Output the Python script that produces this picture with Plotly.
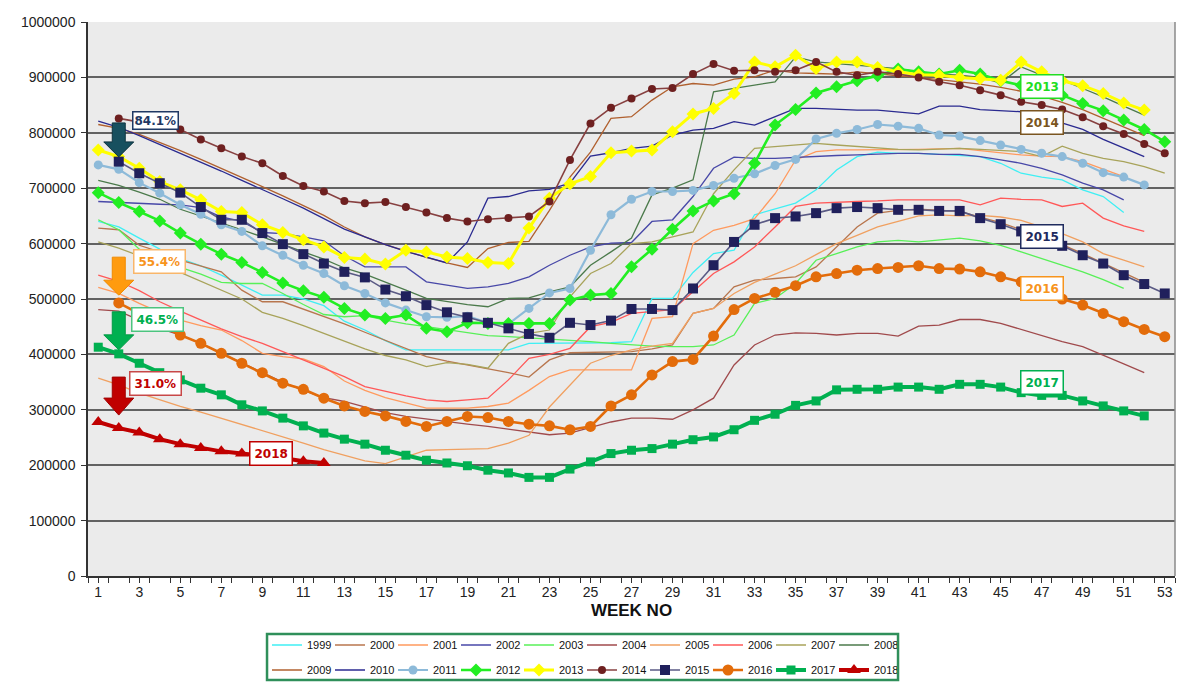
import plotly.graph_objects as go

weeks = list(range(1, 54))
tick_weeks = list(range(1, 54, 2))
y_ticks = list(range(0, 1000001, 100000))

# Weekly stock levels, in thousands (week 1 first)
y1999_k = [640, 630, 610, 590, 573, 560, 543, 525, 507, 507, 500, 488, 460, 444, 425, 408, 408, 408, 408, 408,
           408, 420, 420, 420, 421, 421, 423, 501, 501, 548, 582, 588, 652, 662, 673, 697, 733, 757, 765, 763,
           763, 761, 759, 757, 745, 727, 720, 715, 697, 685, 656]
y2000_k = [628, 625, 597, 585, 570, 560, 549, 516, 495, 495, 482, 468, 455, 440, 425, 410, 396, 388, 381, 375,
           367, 359, 390, 403, 404, 405, 405, 410, 417, 474, 483, 522, 534, 537, 540, 558, 594, 630, 655, 660,
           662, 660, 658, 648, 638, 625, 612, 598, 582, 565, 548, 530]
y2001_k = [521, 510, 492, 476, 462, 452, 444, 425, 402, 396, 392, 378, 352, 335, 322, 312, 303, 303, 303, 306,
           312, 335, 360, 372, 372, 372, 372, 465, 468, 600, 624, 633, 645, 690, 751, 766, 769, 769, 769, 769,
           770, 771, 772, 768, 764, 760, 758, 757, 748, 735, 721]
y2002_k = [676, 674, 673, 671, 670, 665, 648, 640, 620, 618, 612, 605, 578, 558, 558, 558, 531, 525, 519, 522,
           528, 540, 561, 579, 594, 601, 602, 640, 643, 685, 736, 756, 754, 754, 756, 758, 759, 760, 762, 763,
           763, 761, 761, 757, 751, 745, 736, 724, 709, 697, 679]
y2003_k = [643, 625, 590, 570, 557, 545, 530, 528, 528, 510, 490, 472, 468, 470, 462, 455, 450, 445, 440, 434,
           432, 430, 428, 425, 423, 420, 417, 415, 414, 414, 417, 435, 492, 501, 528, 570, 582, 594, 603, 606,
           603, 606, 610, 605, 597, 585, 573, 561, 549, 535, 519]
y2004_k = [481, 478, 462, 447, 435, 420, 402, 385, 368, 350, 335, 322, 315, 305, 295, 288, 283, 278, 274, 270,
           265, 260, 255, 258, 268, 278, 285, 285, 283, 300, 321, 381, 417, 435, 439, 438, 435, 438, 438, 433,
           451, 453, 463, 463, 456, 445, 433, 423, 414, 399, 383, 367]
y2005_k = [357, 345, 330, 318, 306, 296, 285, 273, 262, 251, 240, 228, 218, 208, 203, 215, 227, 228, 229, 230,
           240, 254, 305, 345, 384, 398, 408, 415, 420, 474, 483, 510, 530, 545, 560, 580, 600, 615, 630, 640,
           650, 652, 650, 651, 648, 642, 630, 618, 603, 582, 570, 558]
y2006_k = [543, 532, 515, 495, 478, 462, 446, 432, 420, 405, 390, 375, 360, 342, 333, 325, 318, 315, 318, 321,
           354, 393, 400, 411, 450, 458, 474, 478, 481, 513, 546, 567, 594, 630, 667, 673, 675, 676, 677, 679,
           679, 679, 679, 670, 682, 680, 679, 667, 673, 646, 632, 622]
y2007_k = [603, 592, 578, 562, 548, 532, 515, 500, 476, 465, 452, 438, 425, 410, 398, 390, 378, 385, 382, 375,
           420, 438, 444, 504, 546, 564, 600, 603, 612, 621, 690, 733, 772, 775, 778, 781, 778, 775, 772, 770,
           769, 770, 772, 770, 768, 766, 757, 776, 763, 754, 748, 739, 727]
y2008_k = [714, 705, 693, 680, 662, 650, 638, 625, 612, 598, 585, 572, 556, 545, 531, 516, 501, 495, 490, 486,
           501, 502, 513, 522, 561, 585, 610, 688, 700, 715, 874, 880, 886, 892, 937, 928, 925, 922, 920, 916,
           910, 906, 904, 900, 890, 919, 904, 895, 880, 865, 848, 832]
y2009_k = [815, 808, 797, 783, 768, 752, 736, 720, 703, 686, 669, 651, 630, 612, 598, 586, 575, 565, 557, 591,
           602, 604, 660, 720, 765, 826, 829, 859, 883, 889, 886, 897, 901, 913, 908, 907, 906, 910, 906, 903,
           900, 896, 893, 888, 882, 875, 866, 855, 842, 826, 810, 795]
y2010_k = [821, 810, 795, 779, 764, 748, 731, 714, 698, 681, 664, 645, 626, 612, 598, 586, 575, 565, 603, 682,
           685, 695, 698, 709, 758, 764, 772, 776, 796, 805, 808, 820, 814, 829, 844, 844, 842, 841, 841, 838,
           834, 848, 848, 842, 840, 838, 829, 817, 806, 788, 772, 757]
y2011_k = [742, 734, 710, 691, 670, 653, 634, 622, 596, 579, 561, 546, 524, 510, 493, 480, 468, 467, 469, 457,
           455, 483, 511, 519, 588, 652, 680, 694, 694, 696, 705, 718, 726, 741, 752, 789, 799, 806, 815, 812,
           808, 796, 794, 786, 778, 770, 763, 757, 745, 728, 720, 706]
y2012_k = [692, 674, 658, 641, 619, 599, 581, 566, 548, 529, 515, 503, 483, 471, 465, 471, 447, 441, 457, 456,
           456, 456, 456, 498, 507, 510, 558, 590, 626, 659, 677, 690, 745, 814, 842, 872, 883, 894, 903, 915,
           910, 906, 913, 906, 894, 886, 877, 868, 853, 840, 823, 806, 784]
y2013_k = [769, 757, 736, 712, 697, 679, 658, 656, 634, 620, 607, 594, 575, 572, 563, 588, 585, 576, 573, 566,
           564, 628, 682, 708, 721, 764, 767, 769, 802, 834, 844, 871, 928, 919, 940, 916, 928, 928, 918, 910,
           905, 904, 900, 898, 895, 928, 910, 894, 885, 871, 854, 841]
y2014_k = [None, 826, 820, 813, 806, 788, 772, 757, 745, 722, 704, 694, 677, 673, 675, 666, 656, 646, 640, 644,
           646, 649, 676, 751, 817, 845, 862, 879, 881, 906, 924, 912, 913, 910, 913, 928, 910, 904, 910, 906,
           900, 892, 886, 877, 868, 856, 850, 842, 828, 812, 798, 780, 763]
y2015_k = [None, 748, 727, 709, 692, 666, 643, 643, 619, 599, 581, 564, 549, 539, 517, 505, 489, 476, 467, 457,
           447, 437, 430, 457, 453, 461, 482, 482, 480, 519, 561, 603, 634, 646, 649, 655, 664, 666, 664, 661,
           661, 659, 659, 646, 635, 622, 608, 596, 579, 564, 543, 527, 510]
y2016_k = [None, 493, 473, 454, 435, 420, 402, 384, 367, 348, 337, 321, 307, 297, 289, 279, 270, 279, 288, 286,
           279, 274, 271, 264, 270, 307, 327, 363, 387, 391, 433, 481, 501, 512, 524, 540, 546, 552, 555, 557,
           560, 555, 554, 549, 540, 531, 517, 500, 489, 474, 459, 445, 432]
y2017_k = [413, 401, 384, 367, 354, 339, 327, 309, 298, 285, 271, 258, 247, 238, 227, 218, 209, 204, 199, 191,
           186, 178, 178, 193, 206, 221, 227, 230, 238, 246, 251, 264, 281, 292, 308, 316, 336, 337, 337, 341,
           341, 337, 346, 346, 341, 331, 326, 326, 316, 307, 298, 289]
y2018_k = [278, 267, 259, 247, 238, 231, 225, 221, 217, 213, 207, 204]

series = [
    ("1999", y1999_k), ("2000", y2000_k), ("2001", y2001_k), ("2002", y2002_k), ("2003", y2003_k),
    ("2004", y2004_k), ("2005", y2005_k), ("2006", y2006_k), ("2007", y2007_k), ("2008", y2008_k),
    ("2009", y2009_k), ("2010", y2010_k), ("2011", y2011_k), ("2012", y2012_k), ("2013", y2013_k),
    ("2014", y2014_k), ("2015", y2015_k), ("2016", y2016_k), ("2017", y2017_k), ("2018", y2018_k),
]

# line colour, line width, marker symbol, marker size, marker colour
styles = {
    "1999": ("#3FEFF4", 1.3, None, 0, None),
    "2000": ("#B8764E", 1.3, None, 0, None),
    "2001": ("#FF9A5E", 1.3, None, 0, None),
    "2002": ("#4848A8", 1.3, None, 0, None),
    "2003": ("#58F058", 1.3, None, 0, None),
    "2004": ("#A04A4C", 1.3, None, 0, None),
    "2005": ("#F0A060", 1.3, None, 0, None),
    "2006": ("#FF5858", 1.3, None, 0, None),
    "2007": ("#A8A35A", 1.3, None, 0, None),
    "2008": ("#4B7A4B", 1.3, None, 0, None),
    "2009": ("#B0602F", 1.3, None, 0, None),
    "2010": ("#2A2A90", 1.3, None, 0, None),
    "2011": ("#8DBAD9", 2.2, "circle", 9, "#8DBAD9"),
    "2012": ("#22EE22", 2.6, "diamond", 10, "#22EE22"),
    "2013": ("#FFFF00", 3.0, "diamond", 10, "#FFFF00"),
    "2014": ("#874040", 1.6, "circle", 8, "#6E2020"),
    "2015": ("#5A5A84", 1.6, "square", 10, "#20205C"),
    "2016": ("#E36C0A", 2.6, "circle", 11, "#E36C0A"),
    "2017": ("#00B050", 4.0, "square", 9, "#00B050"),
    "2018": ("#C00000", 4.0, "triangle-up", 12, "#C00000"),
}

fig = go.Figure()
for i, (name, vals_k) in enumerate(series):
    color, width, symbol, msize, mcolor = styles[name]
    vals = [None if v is None else v * 1000 for v in vals_k]
    kw = dict(
        x=weeks[:len(vals)], y=vals, name=name,
        legend="legend" if i < 10 else "legend2",
        line=dict(color=color, width=width),
    )
    if symbol:
        kw["mode"] = "lines+markers"
        kw["marker"] = dict(symbol=symbol, size=msize, color=mcolor, line=dict(width=0))
    else:
        kw["mode"] = "lines"
    fig.add_trace(go.Scatter(**kw))

values = dict(series)

# block arrows pointing at the week-2 readings, with their percentage boxes
callouts = [
    ("84.1%", values["2015"][1] * 1000, 38.7, 19.7, 4.7, "#17505F", "#0E3440", "#1F3864", "#1F3864", 3.78, 822000, 1),
    ("55.4%", values["2016"][1] * 1000, 45.7, 22.7, 7.7, "#FF9B0F", "#F08A00", "#F7941D", "#F9B66A", 3.99, 568000, 4),
    ("46.5%", values["2017"][1] * 1000, 42.0, 19.0, 4.0, "#00B050", "#009A44", "#00B050", "#4CC47F", 3.87, 463000, 4),
    ("31.0%", values["2018"][1] * 1000, 51.0, 30.0, 13.0, "#C00000", "#A00000", "#C00000", "#C84848", 3.78, 346600, 4),
]
shapes = []
annotations = []
for text, yv, top, base, tip, fill, edge, tcol, bcol, lx, ly, pad in callouts:
    sw, hw = 6.5, 15
    path = (f"M{-sw},{top} L{sw},{top} L{sw},{base} L{hw},{base} L0,{tip} "
            f"L{-hw},{base} L{-sw},{base} Z")
    shapes.append(dict(type="path", xref="x", yref="y", xsizemode="pixel", ysizemode="pixel",
                       xanchor=2, yanchor=yv, path=path, fillcolor=fill,
                       line=dict(color=edge, width=1), layer="above"))
    annotations.append(dict(x=lx, y=ly, xref="x", yref="y", text=f"<b>{text}</b>", showarrow=False,
                            font=dict(family="DejaVu Sans", size=12, color=tcol),
                            bgcolor="white", bordercolor=bcol, borderwidth=1.5, borderpad=pad))

# year tags beside their curves
year_tags = [
    ("2013", 47, 884000, "#22DD22"),
    ("2014", 47, 817700, "#7A5520"),
    ("2015", 47, 613700, "#1F2B5E"),
    ("2016", 47, 519800, "#F7941D"),
    ("2017", 47, 350000, "#00B050"),
    ("2018", 9.4, 222000, "#C00000"),
]
for text, xv, yv, col in year_tags:
    annotations.append(dict(x=xv, y=yv, xref="x", yref="y", text=f"<b>{text}</b>", showarrow=False,
                            font=dict(family="DejaVu Sans", size=12, color=col),
                            bgcolor="white", bordercolor=col, borderwidth=1.5, borderpad=4))

# frame on the right of the plot area and box round the legend
shapes.append(dict(type="line", xref="paper", yref="paper", x0=1, x1=1, y0=0, y1=1,
                   line=dict(color="#8A8A8A", width=1.5)))
shapes.append(dict(type="rect", xref="paper", yref="paper", x0=0.1647, x1=0.7452, y0=-0.1877, y1=-0.1047,
                   line=dict(color="#2F8F5A", width=2.5), fillcolor="rgba(0,0,0,0)"))

legend_common = dict(orientation="h", xref="container", yref="container", xanchor="left", yanchor="middle",
                     entrywidth=18, itemwidth=30, bgcolor="rgba(0,0,0,0)", borderwidth=0,
                     font=dict(family="Liberation Sans", size=11, color="#111"), traceorder="normal")

fig.update_layout(
    width=1184, height=682,
    margin=dict(l=88, r=9, t=22, b=106),
    paper_bgcolor="white", plot_bgcolor="#EBEBEB",
    font=dict(family="Liberation Sans", color="#222"),
    showlegend=True,
    legend=dict(x=267 / 1184, y=1 - 645 / 682, **legend_common),
    legend2=dict(x=267 / 1184, y=1 - 670 / 682, **legend_common),
    xaxis=dict(range=[0.5, 53.5], tickmode="array", tickvals=tick_weeks, ticktext=[str(w) for w in tick_weeks],
               showgrid=False, zeroline=False, ticks="outside", ticklen=5, tickcolor="#333",
               showline=True, linecolor="#333", linewidth=1.5, ticklabelstandoff=-3,
               minor=dict(tickmode="array", tickvals=[w - 0.5 for w in weeks] + [53.5], ticks="outside",
                          ticklen=5, tickcolor="#333"),
               tickfont=dict(family="Liberation Sans", size=14, color="#222"),
               title=dict(text="<b>WEEK NO</b>", font=dict(family="Liberation Sans", size=17, color="#111"),
                          standoff=6)),
    yaxis=dict(range=[0, 1000000], tickmode="array", tickvals=y_ticks, ticktext=[str(v) for v in y_ticks],
               showgrid=True, gridcolor="#626262", gridwidth=1.7, zeroline=False, ticklabelstandoff=3,
               ticks="outside", ticklen=5, tickcolor="#333", showline=True, linecolor="#333", linewidth=1.5,
               tickfont=dict(family="Liberation Sans", size=14, color="#222")),
    shapes=shapes,
    annotations=annotations,
)

fig.write_html("out.html")
